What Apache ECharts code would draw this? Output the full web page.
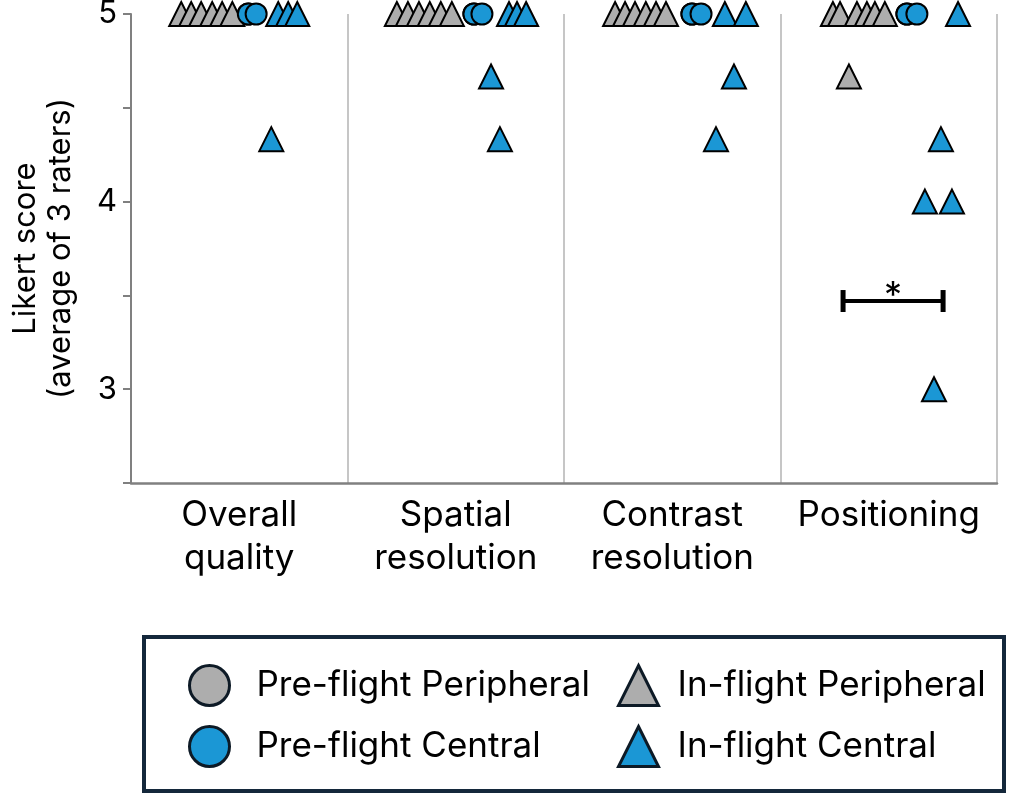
<!DOCTYPE html>
<html>
<head>
<meta charset="utf-8">
<script src="https://cdn.jsdelivr.net/npm/echarts@6/dist/echarts.min.js"></script>
<style>
  html, body { margin: 0; padding: 0; background: #fff; }
  #chart { width: 1013px; height: 795px; }
</style>
</head>
<body>
<div id="chart"></div>
<script>
// ---- data ----
const categories = ['Overall\nquality', 'Spatial\nresolution', 'Contrast\nresolution', 'Positioning'];
const yTickLabels = [3, 4, 5];
// each point: [category index, horizontal jitter within category (fraction of category width), score]
const preFlightPeripheral = [
  [0, 0.042, 5], [1, 0.084, 5], [2, 0.091, 5], [3, 0.084, 5]
];
const preFlightCentral = [
  [0, 0.042, 5], [0, 0.078, 5],
  [1, 0.084, 5], [1, 0.121, 5],
  [2, 0.091, 5], [2, 0.133, 5],
  [3, 0.084, 5], [3, 0.130, 5]
];
const inFlightPeripheral = [
  [0, -0.268, 5], [0, -0.222, 5], [0, -0.176, 5], [0, -0.125, 5], [0, -0.079, 5], [0, -0.032, 5],
  [1, -0.272, 5], [1, -0.221, 5], [1, -0.170, 5], [1, -0.120, 5], [1, -0.069, 5], [1, -0.018, 5],
  [2, -0.264, 5], [2, -0.218, 5], [2, -0.172, 5], [2, -0.122, 5], [2, -0.075, 5], [2, -0.029, 5],
  [3, -0.258, 5], [3, -0.225, 5], [3, -0.147, 5], [3, -0.101, 5], [3, -0.064, 5], [3, -0.018, 5],
  [3, -0.184, 4.667]
];
const inFlightCentral = [
  [0, 0.180, 5], [0, 0.226, 5], [0, 0.268, 5], [0, 0.148, 4.333],
  [1, 0.246, 5], [1, 0.283, 5], [1, 0.325, 5], [1, 0.163, 4.667], [1, 0.204, 4.333],
  [2, 0.243, 5], [2, 0.340, 5], [2, 0.285, 4.667], [2, 0.202, 4.333],
  [3, 0.320, 5], [3, 0.241, 4.333], [3, 0.167, 4.0], [3, 0.292, 4.0], [3, 0.209, 3.0]
];
// significance bracket: [category index, from offset, to offset, y level, label]
const sigBars = [[3, -0.211, 0.251, 3.47, '*']];

// ---- helpers ----
const FONT = 'Inter';
const GRAY = '#adadad';
const BLUE = '#1b97d5';
const toXY = arr => arr.map(d => [d[0] + 0.5 + d[1], d[2]]);

function scatter(name, data, symbol, color, size) {
  return {
    name, type: 'scatter', xAxisIndex: 1, yAxisIndex: 0,
    data: toXY(data), symbol, symbolSize: size,
    itemStyle: { color, borderColor: '#000', borderWidth: 2, opacity: 1 },
    emphasis: { disabled: true }, animation: false, z: 3
  };
}

const chart = echarts.init(document.getElementById('chart'));
chart.setOption({
  backgroundColor: '#fff',
  animation: false,
  grid: { left: 131, right: 16, top: 14, bottom: 312, containLabel: false, outerBoundsMode: 'none' },
  xAxis: [
    {
      type: 'category', data: categories, boundaryGap: true,
      axisLine: { show: true, lineStyle: { color: '#808080', width: 2.5 } },
      axisTick: { show: false },
      splitLine: { show: true, interval: 0, lineStyle: { color: '#c6c6c6', width: 2 } },
      axisLabel: { interval: 0, color: '#000', fontFamily: FONT, fontSize: 35, lineHeight: 43, margin: 11 }
    },
    { type: 'value', min: 0, max: 4, show: false }
  ],
  yAxis: {
    type: 'value', min: 2.5, max: 5, interval: 0.5,
    name: 'Likert score\n(average of 3 raters)', nameLocation: 'middle', nameGap: 53, nameRotate: 90,
    nameTextStyle: { color: '#000', fontFamily: FONT, fontSize: 31, lineHeight: 35 },
    axisLine: { show: true, lineStyle: { color: '#808080', width: 2 } },
    axisTick: { show: true, length: 8, lineStyle: { color: '#808080', width: 2 } },
    splitLine: { show: false },
    axisLabel: {
      color: '#000', fontFamily: FONT, fontSize: 31, margin: 14,
      formatter: v => (yTickLabels.indexOf(v) >= 0 ? String(v) : '')
    }
  },
  legend: [
    {
      data: ['Pre-flight Peripheral', 'Pre-flight Central'],
      orient: 'vertical', left: 188, top: 664, itemGap: 18, padding: 0,
      itemWidth: 40, itemHeight: 40,
      itemStyle: { borderWidth: 3, borderColor: '#0d1a26' },
      textStyle: { color: '#000', fontFamily: FONT, fontSize: 35, lineHeight: 40, padding: [0, 0, 0, 22] },
      selectedMode: false
    },
    {
      data: ['In-flight Peripheral', 'In-flight Central'],
      orient: 'vertical', left: 617, top: 664, itemGap: 18, padding: 0,
      itemWidth: 40, itemHeight: 40,
      itemStyle: { borderWidth: 3, borderColor: '#0d1a26' },
      textStyle: { color: '#000', fontFamily: FONT, fontSize: 35, lineHeight: 40, padding: [0, 0, 0, 14] },
      selectedMode: false
    }
  ],
  graphic: [
    {
      type: 'rect', left: 142, top: 635, z: -1,
      shape: { width: 860, height: 154 },
      style: { fill: '#fff', stroke: '#14283b', lineWidth: 4 }
    }
  ],
  series: [
    scatter('Pre-flight Peripheral', preFlightPeripheral, 'circle', GRAY, 21),
    scatter('In-flight Peripheral', inFlightPeripheral, 'triangle', GRAY, 24),
    scatter('Pre-flight Central', preFlightCentral, 'circle', BLUE, 21),
    scatter('In-flight Central', inFlightCentral, 'triangle', BLUE, 24),
    {
      type: 'custom', xAxisIndex: 1, yAxisIndex: 0, z: 4, silent: true, animation: false,
      data: sigBars.map(d => [d[0] + 0.5 + d[1], d[0] + 0.5 + d[2], d[3], d[4]]),
      renderItem: (params, api) => {
        const p1 = api.coord([api.value(0), api.value(2)]);
        const p2 = api.coord([api.value(1), api.value(2)]);
        const cap = 11;
        return {
          type: 'group',
          children: [
            { type: 'line', shape: { x1: p1[0], y1: p1[1], x2: p2[0], y2: p2[1] }, style: { stroke: '#000', lineWidth: 4 } },
            { type: 'line', shape: { x1: p1[0], y1: p1[1] - cap, x2: p1[0], y2: p1[1] + cap }, style: { stroke: '#000', lineWidth: 5 } },
            { type: 'line', shape: { x1: p2[0], y1: p2[1] - cap, x2: p2[0], y2: p2[1] + cap }, style: { stroke: '#000', lineWidth: 5 } },
            { type: 'text', style: { text: api.value(3), x: (p1[0] + p2[0]) / 2, y: p1[1] - 5, align: 'center', verticalAlign: 'middle', fontSize: 36, fontFamily: FONT, fill: '#000' } }
          ]
        };
      }
    }
  ]
});
</script>
</body>
</html>
